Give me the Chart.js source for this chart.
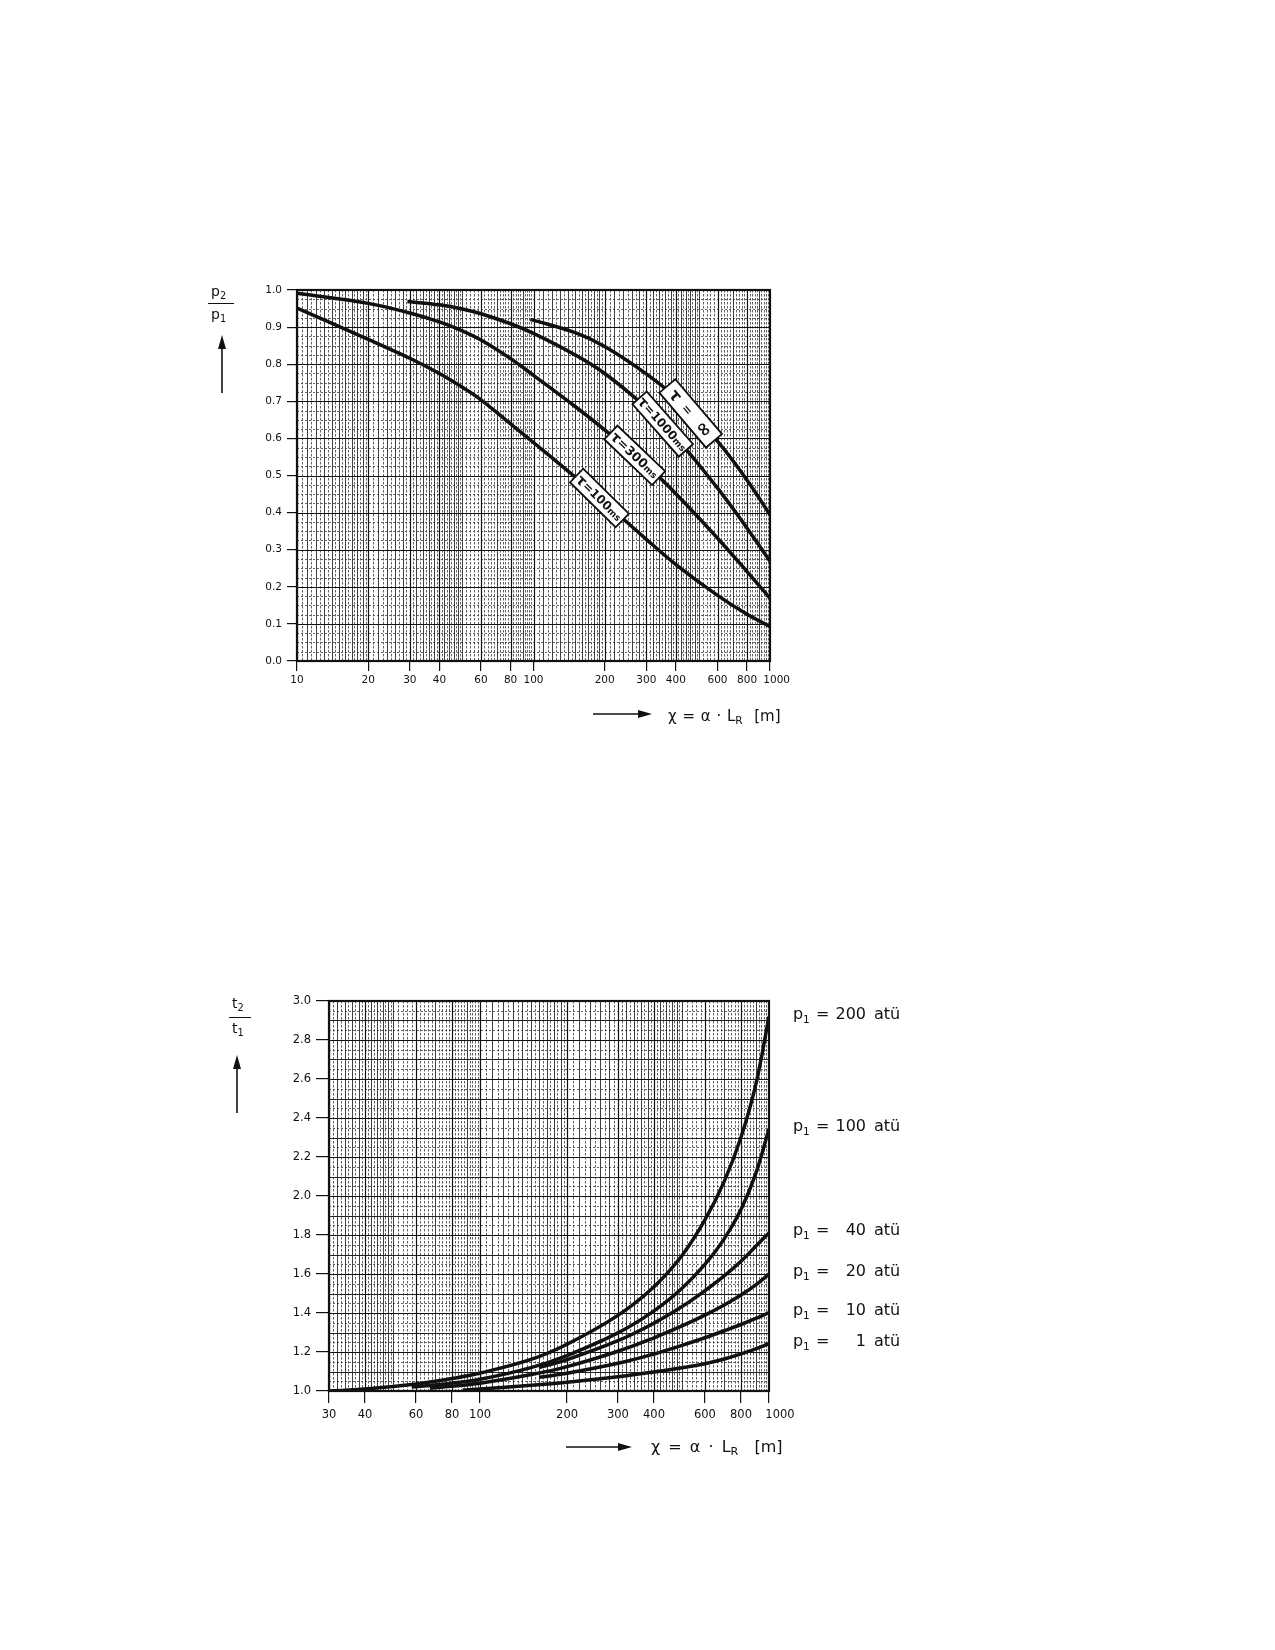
<!DOCTYPE html>
<html>
<head>
<meta charset="utf-8">
<title>p2/p1 und t2/t1 über χ = α·L_R</title>
<script src="https://cdn.jsdelivr.net/npm/chart.js@4.4.1/dist/chart.umd.min.js"></script>
<style>
  html, body { margin:0; padding:0; background:#fff; }
  #page { position:relative; width:1275px; height:1650px; background:#fff; overflow:hidden;
          font-family:'DejaVu Sans', sans-serif; color:#111; }
  canvas { position:absolute; left:0; }
  .t { position:absolute; white-space:nowrap; line-height:1; }
  .t sub { font-size:70%; vertical-align:-0.3em; line-height:0; }
  .bar { position:absolute; height:0; border-top:1.5px solid #111; }
  svg { position:absolute; left:0; top:0; pointer-events:none; }
</style>
</head>
<body>
<div id="page">
  <canvas id="c1" width="1275" height="800" style="top:0"></canvas>
  <canvas id="c2" width="1275" height="850" style="top:800px"></canvas>

  <!-- chart 1 titles -->
  <div class="t" style="left:211px;top:284px;font-size:14px">p<sub>2</sub></div>
  <div class="bar" style="left:208px;top:303px;width:26px"></div>
  <div class="t" style="left:211px;top:307px;font-size:14px">p<sub>1</sub></div>
  <div class="t" style="left:668px;top:709px;font-size:15px;word-spacing:1px">χ = α · L<sub>R</sub>&nbsp;&nbsp;[m]</div>

  <!-- chart 2 titles -->
  <div class="t" style="left:232px;top:996px;font-size:14px">t<sub>2</sub></div>
  <div class="bar" style="left:229px;top:1017px;width:22px"></div>
  <div class="t" style="left:232px;top:1021px;font-size:14px">t<sub>1</sub></div>
  <div class="t" style="left:651px;top:1439px;font-size:16px;word-spacing:3px">χ = α · L<sub>R</sub>&nbsp;&nbsp;[m]</div>

  <svg width="1275" height="1650">
    <g stroke="#111" stroke-width="1.6" fill="#111">
      <line x1="222" y1="393" x2="222" y2="346"/>
      <polygon points="222,335 218,349 226,349" stroke="none"/>
      <line x1="593" y1="714" x2="640" y2="714"/>
      <polygon points="652,714 638,710 638,718" stroke="none"/>
      <line x1="237" y1="1113" x2="237" y2="1066"/>
      <polygon points="237,1055 233,1069 241,1069" stroke="none"/>
      <line x1="566" y1="1447" x2="620" y2="1447"/>
      <polygon points="632,1447 618,1443 618,1451" stroke="none"/>
    </g>
  </svg>
</div>

<script>
// ================= DATA: chart 1 (p2/p1) =================
const xTicks1 = [10, 20, 30, 40, 60, 80, 100, 200, 300, 400, 600, 800, 1000];
const yTicks1 = [0.0, 0.1, 0.2, 0.3, 0.4, 0.5, 0.6, 0.7, 0.8, 0.9, 1.0];
const tauNames = ['τ = ∞', 'τ = 1000 ms', 'τ = 300 ms', 'τ = 100 ms'];

const tauInfX  = [97, 150, 200, 300, 400, 600, 800, 1000];
const tauInfY  = [0.921, 0.885, 0.848, 0.774, 0.709, 0.592, 0.487, 0.394];

const tau1000X = [29.3, 40, 50, 60, 80, 100, 150, 200, 300, 400, 600, 800, 1000];
const tau1000Y = [0.969, 0.960, 0.949, 0.936, 0.909, 0.883, 0.825, 0.775, 0.683, 0.603, 0.466, 0.358, 0.269];

const tau300X  = [10, 20, 30, 40, 50, 60, 80, 100, 150, 200, 300, 400, 600, 800, 1000];
const tau300Y  = [0.991, 0.964, 0.938, 0.914, 0.890, 0.865, 0.815, 0.770, 0.686, 0.623, 0.528, 0.451, 0.331, 0.241, 0.169];

const tau100X  = [10, 20, 30, 40, 50, 60, 80, 100, 150, 200, 300, 400, 600, 800, 1000];
const tau100Y  = [0.951, 0.867, 0.816, 0.775, 0.738, 0.704, 0.639, 0.589, 0.496, 0.427, 0.328, 0.260, 0.177, 0.126, 0.093];

// x-position (χ) where each curve's label box sits
const tagAt = [462, 352, 268, 190];

// ================= DATA: chart 2 (t2/t1) =================
const xTicks2 = [30, 40, 60, 80, 100, 200, 300, 400, 600, 800, 1000];
const yTicks2 = [1.0, 1.2, 1.4, 1.6, 1.8, 2.0, 2.2, 2.4, 2.6, 2.8, 3.0];
const p1Names = ['200', '100', '40', '20', '10', '1'];

const p200X = [30, 40, 60, 80, 100, 150, 200, 300, 400, 500, 600, 700, 800, 900, 1000];
const p200Y = [1.000, 1.010, 1.036, 1.064, 1.092, 1.162, 1.240, 1.388, 1.535, 1.695, 1.877, 2.075, 2.301, 2.571, 2.920];

const p100X = [58, 80, 100, 150, 200, 300, 400, 500, 600, 700, 800, 900, 1000];
const p100Y = [1.020, 1.040, 1.060, 1.120, 1.182, 1.298, 1.411, 1.527, 1.649, 1.780, 1.931, 2.115, 2.345];

const p40X  = [160, 200, 300, 400, 500, 600, 700, 800, 900, 1000];
const p40Y  = [1.120, 1.161, 1.258, 1.348, 1.433, 1.514, 1.590, 1.665, 1.742, 1.811];

const p20X  = [67, 100, 150, 200, 300, 400, 500, 600, 700, 800, 900, 1000];
const p20Y  = [1.014, 1.040, 1.084, 1.125, 1.204, 1.273, 1.334, 1.389, 1.441, 1.492, 1.544, 1.600];

const p10X  = [160, 200, 300, 400, 500, 600, 700, 800, 900, 1000];
const p10Y  = [1.070, 1.091, 1.142, 1.190, 1.234, 1.273, 1.309, 1.341, 1.372, 1.402];

const p1X   = [87, 100, 150, 200, 300, 400, 500, 600, 700, 800, 900, 1000];
const p1Y   = [1.005, 1.010, 1.029, 1.045, 1.073, 1.097, 1.119, 1.140, 1.164, 1.190, 1.216, 1.243];

// ================= helpers =================
const FONT = "'DejaVu Sans', sans-serif";
const INK = '#111';
const FIG = '\u2007';
function pts(xs, ys) { return xs.map((x, i) => ({ x: x, y: ys[i] })); }
function interpLog(data, xv) {
  for (let i = 0; i < data.length - 1; i++) {
    const a = data[i], b = data[i + 1];
    if (xv >= a.x && xv <= b.x) {
      const t = Math.log(xv / a.x) / Math.log(b.x / a.x);
      return a.y + t * (b.y - a.y);
    }
  }
  return data[data.length - 1].y;
}
// log graph-paper rulings between lo and hi
function logPaper(lo, hi) {
  const out = [];
  const segs = [[1, 2, 0.05, 0.1], [2, 5, 0.1, 0.2], [5, 10, 0.2, 1]];
  for (let d = 1; d <= hi; d *= 10) {
    for (const [a, b, st, ss] of segs) {
      const n = Math.round((b - a) / st);
      for (let i = 0; i < n; i++) {
        const m = a + i * st;
        const v = +(m * d).toFixed(6);
        if (v < lo - 1e-9 || v > hi + 1e-9) continue;
        const r = m / ss;
        out.push({ v: v, solid: Math.abs(r - Math.round(r)) < 1e-6 });
      }
    }
  }
  return out;
}
function lineDs(xs, ys) {
  return {
    data: pts(xs, ys), borderColor: INK, borderWidth: 3.5, pointRadius: 0, pointHoverRadius: 0,
    fill: false, tension: 0.4, cubicInterpolationMode: 'default', borderCapStyle: 'butt', borderJoinStyle: 'round'
  };
}

// ================= plugins =================
const paperGrid = {
  id: 'paperGrid',
  beforeDatasetsDraw(chart, args, o) {
    const ctx = chart.ctx, a = chart.chartArea;
    const xs = chart.scales.x, ys = chart.scales.y;
    ctx.save();
    ctx.beginPath(); ctx.rect(a.left, a.top, a.right - a.left, a.bottom - a.top); ctx.clip();
    const vline = (v, lw, col, dash) => {
      const p = Math.round(xs.getPixelForValue(v)) + 0.5;
      ctx.beginPath(); ctx.lineWidth = lw; ctx.strokeStyle = col; ctx.setLineDash(dash);
      ctx.moveTo(p, a.top); ctx.lineTo(p, a.bottom); ctx.stroke();
    };
    const hline = (v, lw, col, dash) => {
      const p = Math.round(ys.getPixelForValue(v)) + 0.5;
      ctx.beginPath(); ctx.lineWidth = lw; ctx.strokeStyle = col; ctx.setLineDash(dash);
      ctx.moveTo(a.left, p); ctx.lineTo(a.right, p); ctx.stroke();
    };
    const isMult = (v, s) => Math.abs(v / s - Math.round(v / s)) < 1e-6;
    const nd = Math.round((o.hMax - o.hMin) / o.hDot);
    for (let i = 0; i <= nd; i++) {
      const v = o.hMin + i * o.hDot;
      if (isMult(v - o.hMin, o.hSolid)) continue;
      hline(v, 0.9, '#555', [2, 2]);
    }
    for (const g of logPaper(o.vLo, o.vHi)) {
      if (g.solid) vline(g.v, 0.85, '#1e1e1e', []);
      else vline(g.v, 0.85, '#444', [2.5, 1.5]);
    }
    const ns = Math.round((o.hMax - o.hMin) / o.hSolid);
    for (let i = 0; i <= ns; i++) hline(o.hMin + i * o.hSolid, 1.0, '#222', []);
    xs.ticks.forEach(t => vline(t.value, 1.2, INK, []));
    ys.ticks.forEach(t => hline(t.value, 1.2, INK, []));
    ctx.restore();
  },
  afterDatasetsDraw(chart) {
    const ctx = chart.ctx, a = chart.chartArea;
    ctx.save();
    ctx.lineWidth = 2.2; ctx.strokeStyle = INK; ctx.setLineDash([]);
    ctx.strokeRect(a.left, a.top, a.right - a.left, a.bottom - a.top);
    ctx.restore();
  }
};

const curveTags = {
  id: 'curveTags',
  afterDatasetsDraw(chart, args, o) {
    if (!o.tags) return;
    const ctx = chart.ctx, xs = chart.scales.x, ys = chart.scales.y;
    o.tags.forEach(t => {
      const data = chart.data.datasets[t.ds].data;
      const px = xs.getPixelForValue(t.at), py = ys.getPixelForValue(interpLog(data, t.at));
      const x1 = xs.getPixelForValue(t.at / 1.1), y1 = ys.getPixelForValue(interpLog(data, t.at / 1.1));
      const x2 = xs.getPixelForValue(t.at * 1.1), y2 = ys.getPixelForValue(interpLog(data, t.at * 1.1));
      const ang = Math.atan2(y2 - y1, x2 - x1) + 0.06;
      ctx.save();
      ctx.translate(px, py); ctx.rotate(ang);
      ctx.fillStyle = '#fff';
      ctx.fillRect(-t.w / 2, -t.h / 2, t.w, t.h);
      ctx.lineWidth = 1.8; ctx.strokeStyle = INK;
      ctx.strokeRect(-t.w / 2, -t.h / 2, t.w, t.h);
      let total = 0;
      t.runs.forEach(r => { ctx.font = r[1]; total += ctx.measureText(r[0]).width; });
      let cx = -total / 2;
      ctx.fillStyle = INK; ctx.textBaseline = 'middle'; ctx.textAlign = 'left';
      t.runs.forEach(r => { ctx.font = r[1]; ctx.fillText(r[0], cx, r[2] || 1); cx += ctx.measureText(r[0]).width; });
      ctx.restore();
    });
  }
};

const endLabels = {
  id: 'endLabels',
  afterDraw(chart, args, o) {
    if (!o.names) return;
    const ctx = chart.ctx, ys = chart.scales.y;
    ctx.save();
    ctx.fillStyle = INK; ctx.textBaseline = 'alphabetic';
    chart.data.datasets.forEach((ds, i) => {
      const last = ds.data[ds.data.length - 1].y;
      const yb = ys.getPixelForValue(last) + 2;
      ctx.textAlign = 'left';
      ctx.font = '16px ' + FONT; ctx.fillText('p', 793, yb);
      ctx.font = '10.5px ' + FONT; ctx.fillText('1', 803, yb + 4);
      ctx.font = '16px ' + FONT; ctx.fillText('=', 816, yb);
      ctx.textAlign = 'right'; ctx.fillText(o.names[i], 866, yb);
      ctx.textAlign = 'left'; ctx.fillText('atü', 874, yb);
    });
    ctx.restore();
  }
};

// ================= chart 1 =================
const ds1 = [lineDs(tauInfX, tauInfY), lineDs(tau1000X, tau1000Y), lineDs(tau300X, tau300Y), lineDs(tau100X, tau100Y)];
ds1.forEach((d, i) => d.label = tauNames[i]);

new Chart(document.getElementById('c1'), {
  type: 'line',
  data: { datasets: ds1 },
  plugins: [paperGrid, curveTags],
  options: {
    responsive: false, animation: false, events: [],
    layout: { padding: { left: 247, right: 505, top: 290, bottom: 107 } },
    scales: {
      x: {
        type: 'logarithmic', min: 10, max: 1000,
        afterBuildTicks: s => { s.ticks = xTicks1.map(v => ({ value: v })); },
        afterFit: s => { s.height = 32; },
        ticks: { autoSkip: false, maxRotation: 0, padding: 3, color: INK, font: { family: FONT, size: 10.5 },
                 callback: v => (v === 1000 ? FIG + FIG + '1000' : String(v)) },
        grid: { drawOnChartArea: false, drawTicks: true, tickLength: 10, color: INK, lineWidth: 1.2 },
        border: { display: false }
      },
      y: {
        type: 'linear', min: 0, max: 1,
        afterBuildTicks: s => { s.ticks = yTicks1.map(v => ({ value: v })); },
        afterFit: s => { s.width = 50; },
        ticks: { autoSkip: false, padding: 5, color: INK, font: { family: FONT, size: 10.5 },
                 callback: v => Number(v).toFixed(1) },
        grid: { drawOnChartArea: false, drawTicks: true, tickLength: 10, color: INK, lineWidth: 1.2 },
        border: { display: false }
      }
    },
    plugins: {
      legend: { display: false }, tooltip: { enabled: false },
      paperGrid: { vLo: 10, vHi: 1000, hMin: 0, hMax: 1, hSolid: 0.1, hDot: 0.025 },
      curveTags: {
        tags: [
          { ds: 0, at: tagAt[0], w: 72, h: 21, runs: [['τ', 'bold 16px ' + FONT], ['  =   ', 'bold 12px ' + FONT], ['∞', 'bold 19px ' + FONT]] },
          { ds: 1, at: tagAt[1], w: 70, h: 19, runs: [['τ', 'bold 14px ' + FONT], ['=1000', 'bold 12px ' + FONT], ['ms', 'bold 9px ' + FONT, 2]] },
          { ds: 2, at: tagAt[2], w: 66, h: 19, runs: [['τ', 'bold 14px ' + FONT], ['=300', 'bold 12.5px ' + FONT], ['ms', 'bold 9px ' + FONT, 2]] },
          { ds: 3, at: tagAt[3], w: 64, h: 19, runs: [['τ', 'bold 14px ' + FONT], ['=100', 'bold 12px ' + FONT], ['ms', 'bold 9px ' + FONT, 2]] }
        ]
      }
    }
  }
});

// ================= chart 2 =================
const ds2 = [lineDs(p200X, p200Y), lineDs(p100X, p100Y), lineDs(p40X, p40Y), lineDs(p20X, p20Y), lineDs(p10X, p10Y), lineDs(p1X, p1Y)];
ds2.forEach((d, i) => d.label = 'p1 = ' + p1Names[i] + ' atü');

new Chart(document.getElementById('c2'), {
  type: 'line',
  data: { datasets: ds2 },
  plugins: [paperGrid, endLabels],
  options: {
    responsive: false, animation: false, events: [],
    layout: { padding: { left: 269, right: 506, top: 201, bottom: 219 } },
    scales: {
      x: {
        type: 'logarithmic', min: 30, max: 1000,
        afterBuildTicks: s => { s.ticks = xTicks2.map(v => ({ value: v })); },
        afterFit: s => { s.height = 40; },
        ticks: { autoSkip: false, maxRotation: 0, padding: 5, color: INK, font: { family: FONT, size: 11.5 },
                 callback: v => (v === 1000 ? FIG + FIG + FIG + '1000' : String(v)) },
        grid: { drawOnChartArea: false, drawTicks: true, tickLength: 12, color: INK, lineWidth: 1.2 },
        border: { display: false }
      },
      y: {
        type: 'linear', min: 1, max: 3,
        afterBuildTicks: s => { s.ticks = yTicks2.map(v => ({ value: v })); },
        afterFit: s => { s.width = 60; },
        ticks: { autoSkip: false, padding: 5, color: INK, font: { family: FONT, size: 11.5 },
                 callback: v => Number(v).toFixed(1) },
        grid: { drawOnChartArea: false, drawTicks: true, tickLength: 13, color: INK, lineWidth: 1.2 },
        border: { display: false }
      }
    },
    plugins: {
      legend: { display: false }, tooltip: { enabled: false },
      paperGrid: { vLo: 30, vHi: 1000, hMin: 1, hMax: 3, hSolid: 0.1, hDot: 0.05 },
      endLabels: { names: p1Names }
    }
  }
});
</script>
</body>
</html>
